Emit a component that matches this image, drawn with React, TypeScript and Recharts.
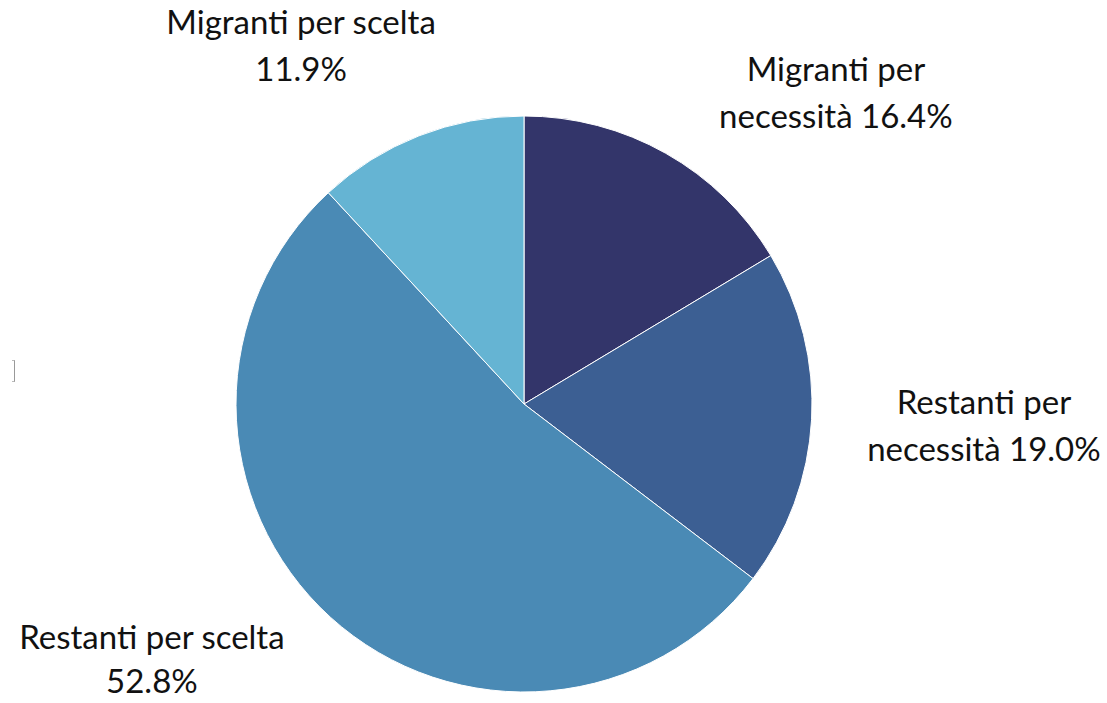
import { PieChart, Pie, Cell } from 'recharts'

const categories = ['Migranti per necessità', 'Restanti per necessità', 'Restanti per scelta', 'Migranti per scelta']
const values = [16.4, 19.0, 52.8, 11.9]
const colors = ['#33356a', '#3c5f93', '#4a8ab5', '#65b4d3']
// label text split into two lines, as in the original
const labelLines = [
  ['Migranti per', 'necessità 16.4%'],
  ['Restanti per', 'necessità 19.0%'],
  ['Restanti per scelta', '52.8%'],
  ['Migranti per scelta', '11.9%'],
]
// label block centre, in units of the pie radius, from the pie centre
const labelPlacement = [
  [1.083, -1.073],
  [1.597, 0.083],
  [-1.292, 0.9],
  [-0.774, -1.236],
]

const data = categories.map((name, i) => ({ name, value: values[i] }))

function renderLabel(props: any) {
  const { cx, cy, outerRadius, index } = props
  const [fx, fy] = labelPlacement[index]
  const x = cx + fx * outerRadius
  const y = cy + fy * outerRadius
  const lines = labelLines[index]
  return (
    <text x={x} y={y} textAnchor="middle" fill="#111" fontFamily="Lato" fontSize={33}>
      <tspan x={x} dy={-14}>{lines[0]}</tspan>
      <tspan x={x} dy={index === 2 ? 44 : 47}>{lines[1]}</tspan>
    </text>
  )
}

export default function App() {
  return (
    <div style={{ position: 'absolute', left: 0, top: 0, width: 1107, height: 703, background: '#fff' }}>
      <PieChart width={1107} height={703} margin={{ top: 0, right: 0, bottom: 0, left: 0 }}>
        <Pie data={data} dataKey="value" cx={524} cy={404} outerRadius={288}
          startAngle={90} endAngle={-270} stroke="#fff" strokeWidth={1}
          label={renderLabel} labelLine={false} isAnimationActive={false}>
          {data.map((d, i) => (
            <Cell key={i} fill={colors[i]} />
          ))}
        </Pie>
      </PieChart>
      <div style={{ position: 'absolute', left: 12, top: 360, width: 2, height: 20, borderRight: '1px solid #999', borderTop: '1px solid #bbb', borderBottom: '1px solid #bbb' }} />
    </div>
  )
}
